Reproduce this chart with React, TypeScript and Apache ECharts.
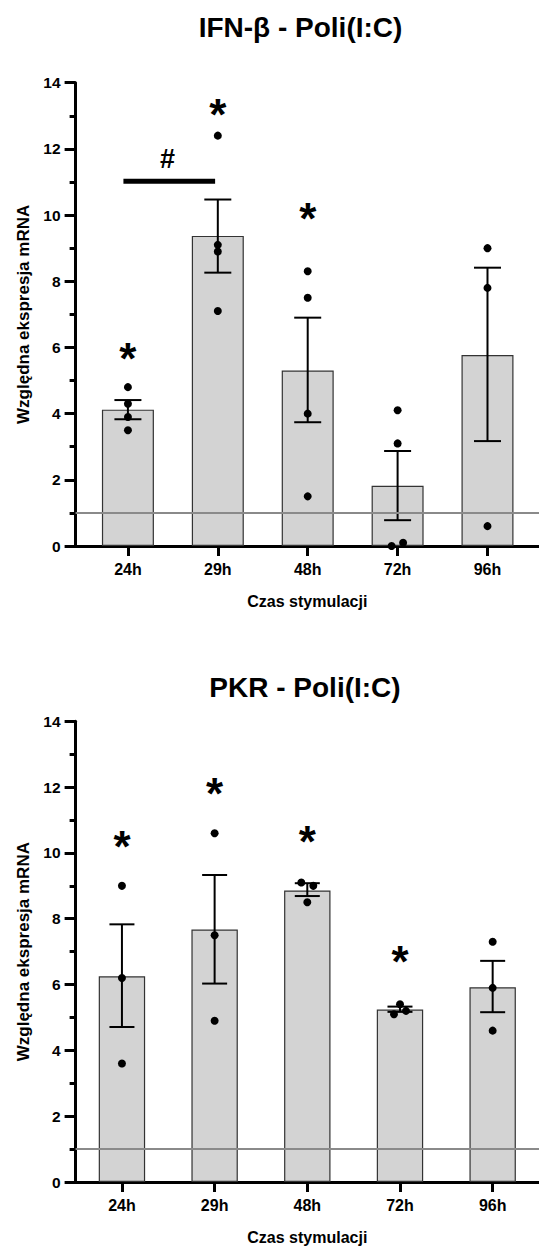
import React, { useEffect, useRef } from "react";
import * as echarts from "echarts";

const categories = ["24h", "29h", "48h", "72h", "96h"];
const tickIdx = [0, 1, 2, 3, 4];
const refLevel = 1;
const xName = "Czas stymulacji";
const yName = "Względna ekspresja mRNA";

// IFN-beta panel
const ifnTitle = "IFN-β - Poli(I:C)";
const ifnMean = [4.12, 9.37, 5.3, 1.82, 5.77];
const ifnUpper = [4.41, 10.47, 6.9, 2.87, 8.41];
const ifnLower = [3.83, 8.26, 3.74, 0.78, 3.17];
const ifnPoints = [
  [4.8, 4.3, 3.9, 3.5],
  [12.4, 9.1, 8.9, 7.1],
  [8.3, 7.5, 4.0, 1.5],
  [4.1, 3.1, 0.1, 0.0],
  [9.0, 7.8, 0.6],
];
const ifnStars = [
  [0, 6.0],
  [1, 13.38],
  [2, 10.22],
];
const ifnHash = [[0.44, 11.7]];
const ifnBracket = [[-0.05, 0.97, 11.02]];

// PKR panel
const pkrTitle = "PKR - Poli(I:C)";
const pkrMean = [6.25, 7.67, 8.86, 5.24, 5.92];
const pkrUpper = [7.83, 9.33, 9.08, 5.33, 6.72];
const pkrLower = [4.71, 6.03, 8.69, 5.17, 5.16];
const pkrPoints = [
  [9.0, 6.2, 3.6],
  [10.6, 7.5, 4.9],
  [9.1, 9.0, 8.5],
  [5.4, 5.1, 5.2],
  [7.3, 5.9, 4.6],
];
const pkrStars = [
  [0, 10.52],
  [1, 12.15],
  [2, 10.67],
  [3, 7.02],
];

// styling (pixel jitter of overlapping dots)
const jitterPx: Record<string, number> = {
  "0-3-2": 5.5,
  "0-3-3": -6,
  "1-2-0": -6,
  "1-2-1": 6,
  "1-3-1": -6,
  "1-3-2": 6,
};

const FONT = "'Liberation Sans', Arial, sans-serif";
const STAR_SIZE = 44;
const HASH_SIZE = 27;

function buildPanel(
  g: number,
  mean: number[],
  upper: number[],
  lower: number[],
  points: number[][],
  stars: number[][],
  hash: number[][],
  bracket: number[][],
  barWidth: number,
  capHalf: number
) {
  const series: any[] = [];
  series.push({
    type: "line",
    xAxisIndex: g,
    yAxisIndex: g,
    data: [],
    z: 1,
    markLine: {
      silent: true,
      symbol: "none",
      label: { show: false },
      lineStyle: { color: "#8a8a8a", width: 2, type: "solid" },
      data: [{ yAxis: refLevel }],
    },
  });
  series.push({
    type: "bar",
    xAxisIndex: g,
    yAxisIndex: g,
    z: 2,
    barWidth,
    itemStyle: { color: "#d3d3d3", borderColor: "#333", borderWidth: 1.2 },
    data: mean.map((m, i) => [i, m]),
  });
  series.push({
    type: "custom",
    xAxisIndex: g,
    yAxisIndex: g,
    z: 3,
    data: mean.map((_, i) => [i, lower[i], upper[i]]),
    encode: { x: 0, y: [1, 2] },
    renderItem: (params: any, api: any) => {
      const x = api.value(0);
      const top = api.coord([x, api.value(2)]);
      const bot = api.coord([x, api.value(1)]);
      const st = { stroke: "#000", lineWidth: 2 };
      return {
        type: "group",
        children: [
          { type: "line", shape: { x1: top[0], y1: top[1], x2: bot[0], y2: bot[1] }, style: st },
          { type: "line", shape: { x1: top[0] - capHalf, y1: top[1], x2: top[0] + capHalf, y2: top[1] }, style: st },
          { type: "line", shape: { x1: bot[0] - capHalf, y1: bot[1], x2: bot[0] + capHalf, y2: bot[1] }, style: st },
        ],
      };
    },
  });
  const pts: any[] = [];
  points.forEach((arr, i) =>
    arr.forEach((v, j) => {
      const off = jitterPx[`${g}-${i}-${j}`] || 0;
      pts.push({ value: [i, v], symbolOffset: [off, 0] });
    })
  );
  series.push({
    type: "scatter",
    xAxisIndex: g,
    yAxisIndex: g,
    z: 4,
    symbol: "circle",
    symbolSize: 8,
    itemStyle: { color: "#000", opacity: 1 },
    data: pts,
  });
  const textSeries = (data: number[][], ch: string, size: number, dyFactor: number) => ({
    type: "custom",
    xAxisIndex: g,
    yAxisIndex: g,
    z: 5,
    data,
    renderItem: (params: any, api: any) => {
      const p = api.coord([api.value(0), api.value(1)]);
      return {
        type: "text",
        x: p[0],
        y: p[1] + dyFactor * size,
        style: {
          text: ch,
          fontSize: size,
          fontWeight: "bold",
          fontFamily: FONT,
          fill: "#000",
          align: "center",
          verticalAlign: "middle",
        },
      };
    },
  });
  series.push(textSeries(stars, "*", STAR_SIZE, 0.25));
  if (hash.length) series.push(textSeries(hash, "#", HASH_SIZE, 0));
  if (bracket.length)
    series.push({
      type: "custom",
      xAxisIndex: g,
      yAxisIndex: g,
      z: 5,
      data: bracket,
      renderItem: (params: any, api: any) => {
        const a = api.coord([api.value(0), api.value(2)]);
        const b = api.coord([api.value(1), api.value(2)]);
        return {
          type: "line",
          shape: { x1: a[0], y1: a[1], x2: b[0], y2: b[1] },
          style: { stroke: "#000", lineWidth: 5 },
        };
      },
    });
  return series;
}

function xAxisCfg(g: number, min: number, max: number) {
  return {
    type: "value",
    gridIndex: g,
    min,
    max,
    axisLine: { show: true, onZero: false, lineStyle: { color: "#000", width: 3 } },
    axisTick: { show: true, customValues: tickIdx, length: 10, lineStyle: { color: "#000", width: 3 } },
    axisLabel: {
      customValues: tickIdx,
      formatter: (v: number) => categories[Math.round(v)] ?? "",
      margin: 15,
      fontSize: 16,
      fontWeight: "bold",
      color: "#000",
      fontFamily: FONT,
    },
    splitLine: { show: false },
    name: xName,
    nameLocation: "middle",
    nameGap: 47,
    nameTextStyle: { fontSize: 16, fontWeight: "bold", color: "#000", fontFamily: FONT },
  };
}

function yAxisCfg(g: number) {
  return {
    type: "value",
    gridIndex: g,
    min: 0,
    max: 14,
    interval: 2,
    axisLine: { show: true, onZero: false, lineStyle: { color: "#000", width: 3 } },
    axisTick: { show: true, length: 11, lineStyle: { color: "#000", width: 3 } },
    minorTick: { show: true, splitNumber: 2, length: 6, lineStyle: { color: "#000", width: 3 } },
    axisLabel: { margin: 15, fontSize: 15.5, fontWeight: "bold", color: "#000", fontFamily: FONT },
    splitLine: { show: false },
    minorSplitLine: { show: false },
    name: yName,
    nameLocation: "middle",
    nameGap: 42,
    nameTextStyle: { fontSize: 17, fontWeight: "bold", color: "#000", fontFamily: FONT },
  };
}

export default function App() {
  const ref = useRef<HTMLDivElement>(null);
  useEffect(() => {
    if (!ref.current) return;
    const chart = echarts.init(ref.current, undefined, { renderer: "svg" });
    const titleStyle = { fontSize: 28, fontWeight: "bold", color: "#000", fontFamily: FONT };
    chart.setOption({
      animation: false,
      backgroundColor: "#fff",
      title: [
        { text: ifnTitle, left: 300.5, top: 13, textAlign: "center", textStyle: titleStyle, padding: 0 },
        { text: pkrTitle, left: 305, top: 673, textAlign: "center", textStyle: titleStyle, padding: 0 },
      ],
      grid: [
        { left: 75.6, top: 82.7, width: 463.4, height: 463.3, containLabel: false },
        { left: 75.6, top: 721.3, width: 463.4, height: 463.7, containLabel: false },
      ],
      xAxis: [xAxisCfg(0, -0.582, 4.573), xAxisCfg(1, -0.5, 4.5)],
      yAxis: [yAxisCfg(0), yAxisCfg(1)],
      series: [
        ...buildPanel(0, ifnMean, ifnUpper, ifnLower, ifnPoints, ifnStars, ifnHash, ifnBracket, 52, 13.5),
        ...buildPanel(1, pkrMean, pkrUpper, pkrLower, pkrPoints, pkrStars, [], [], 46.4, 12.5),
      ],
    });
    return () => chart.dispose();
  }, []);
  return (
    <div
      ref={ref}
      style={{ position: "absolute", left: 0, top: 0, width: 539, height: 1246, background: "#fff" }}
    />
  );
}
